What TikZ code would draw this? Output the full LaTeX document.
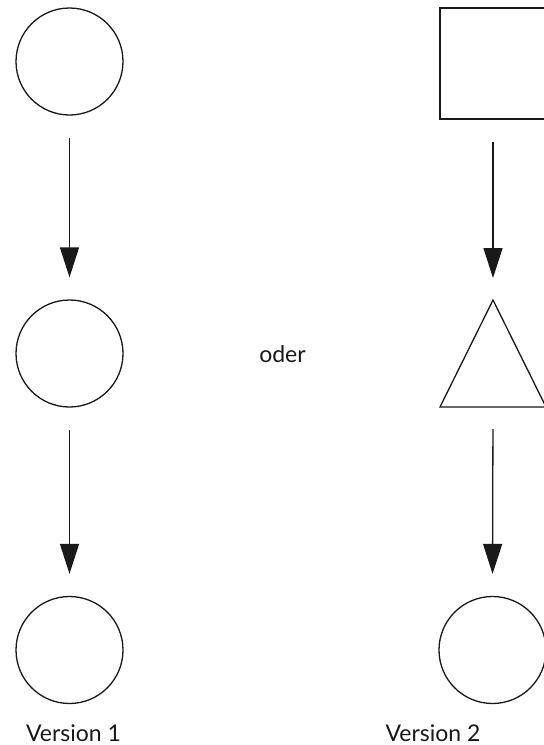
\documentclass[tikz,border=0pt]{standalone}
\usepackage{fontspec}
\setmainfont{Lato}
\usetikzlibrary{arrows.meta,shapes.geometric}
\begin{document}
\begin{tikzpicture}[x=1pt,y=-1pt,
  shp/.style={draw=black!90,line width=1.3pt,inner sep=0pt},
  rnd/.style={shp,circle,minimum size=107pt},
  conn/.style={line width=1.3pt,draw=black!90,-{Triangle[length=30pt,width=19pt]},shorten <=22pt,shorten >=22pt},
  lbl/.style={font=\fontsize{23}{27}\selectfont,text=black!90,anchor=base,inner sep=0pt}]
\useasboundingbox (0,0) rectangle (544,745);
\node[rnd] (a1) at (69.5,61.5) {};
\node[rnd] (a2) at (69.5,353.5) {};
\node[rnd] (a3) at (69.5,650) {};
\node[shp,rectangle,minimum width=106pt,minimum height=111pt] (b1) at (493,63.5) {};
\coordinate (b2top) at (493,300);
\coordinate (b2bot) at (493,407);
\draw[shp,line join=miter] (b2top) -- (546,407) -- (440,407) -- cycle;
\node[rnd] (b3) at (492.5,650) {};
\draw[conn] (a1.south) -- (a2.north);
\draw[conn] (a2.south) -- (a3.north);
\draw[conn] (b1.south) -- (b2top);
\draw[conn] (b2bot) -- (b3.north);
\node[lbl] (o) at (282.5,362) {oder};
\node[lbl] (v1) at (73.5,741) {Version 1};
\node[lbl] (v2) at (433,741) {Version 2};
\end{tikzpicture}
\end{document}
